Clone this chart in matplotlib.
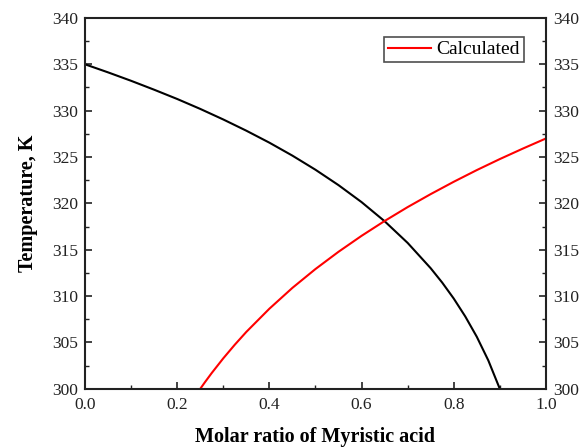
import matplotlib.pyplot as plt
from matplotlib.ticker import MultipleLocator

plt.rcParams['font.family'] = ['Liberation Serif', 'DejaVu Serif']

# liquidus curve of the other acid (black)
x_black = [0.0, 0.05, 0.1, 0.15, 0.2, 0.25, 0.3, 0.35, 0.4, 0.45, 0.5, 0.55,
           0.6, 0.65, 0.7, 0.75, 0.775, 0.8, 0.825, 0.85, 0.875, 0.9]
t_black = [335.0, 334.13, 333.22, 332.26, 331.26, 330.19, 329.05, 327.84, 326.55,
           325.15, 323.63, 321.97, 320.14, 318.08, 315.74, 313.01, 311.46, 309.74,
           307.81, 305.62, 303.07, 300.0]

# calculated liquidus of myristic acid (red)
x_red = [0.25, 0.26, 0.275, 0.3, 0.325, 0.35, 0.4, 0.45, 0.5, 0.55, 0.6, 0.65,
         0.7, 0.75, 0.8, 0.85, 0.9, 0.95, 1.0]
t_red = [300.0, 300.70, 301.71, 303.29, 304.76, 306.14, 308.64, 310.89, 312.92,
         314.78, 316.50, 318.10, 319.60, 321.00, 322.33, 323.59, 324.78, 325.91, 327.0]

fig = plt.figure(figsize=(5.82, 4.48), dpi=100)
ax = fig.add_axes([0.146, 0.132, 0.792, 0.828])

ax.plot(x_black, t_black, color='black', lw=1.5)
ax.plot(x_red, t_red, color='red', lw=1.5, label='Calculated')

ax.set_xlim(0, 1)
ax.set_ylim(300, 340)
ax.xaxis.set_major_locator(MultipleLocator(0.2))
ax.xaxis.set_minor_locator(MultipleLocator(0.1))
ax.yaxis.set_major_locator(MultipleLocator(5))
ax.yaxis.set_minor_locator(MultipleLocator(2.5))
ax.xaxis.set_major_formatter(plt.FormatStrFormatter('%.1f'))

ax.tick_params(which='both', direction='in', right=True, labelright=True,
               labelsize=12.5, colors='#222222')
ax.tick_params(which='major', length=5, width=1.2, pad=5)
ax.tick_params(axis='x', which='major', pad=6)
ax.tick_params(which='minor', length=3, width=1.0)
for s in ax.spines.values():
    s.set_linewidth(1.5)
    s.set_color('#222222')

ax.set_xlabel('Molar ratio of Myristic acid', fontsize=14.5, fontweight='bold', labelpad=10)
ax.set_ylabel('Temperature, K', fontsize=14.5, fontweight='bold', labelpad=10)

leg = ax.legend(loc='upper right', fontsize=14, frameon=True, fancybox=False,
                edgecolor='#222222', handlelength=2.2, handletextpad=0.3,
                borderpad=0.2, borderaxespad=0, bbox_to_anchor=(0.952, 0.949))
leg.get_frame().set_linewidth(1.2)

fig.savefig('out.png', dpi=100)
